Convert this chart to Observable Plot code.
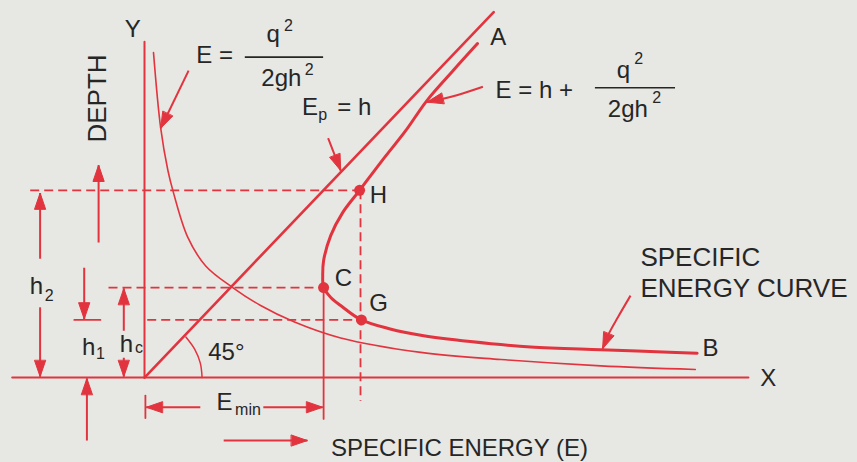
<!DOCTYPE html>
<html>
<head>
<meta charset="utf-8">
<script src="https://cdn.jsdelivr.net/npm/d3@7"></script>
<script src="https://cdn.jsdelivr.net/npm/@observablehq/plot@0.6"></script>
<style>
  html, body { margin: 0; padding: 0; background: #e7e7e3; }
  #chart svg { display: block; }
</style>
</head>
<body>
<div id="chart"></div>
<script>
// ---- Data (E = specific energy, h = depth; units where h_c = 1) ----
const specificEnergyCurve = [
  [3.70, 3.71], [3.42, 3.40], [3.14, 3.08], [2.90, 2.74], [2.64, 2.41],
  [2.39, 2.08], [2.20, 1.83], [2.07, 1.58], [1.99, 1.30], [1.98, 1.13],
  [1.99, 1.00], [2.07, 0.89], [2.18, 0.80], [2.41, 0.64], [2.73, 0.54],
  [3.07, 0.47], [3.62, 0.40], [4.29, 0.34], [5.07, 0.31], [5.62, 0.29],
  [6.14, 0.27]
];
const kineticCurve = [
  [0.10, 3.61], [0.18, 2.77], [0.26, 2.30], [0.32, 2.06], [0.48, 1.56],
  [0.68, 1.24], [0.98, 1.00], [1.29, 0.80], [1.66, 0.62], [2.18, 0.44],
  [3.07, 0.28], [3.96, 0.20], [5.07, 0.13], [6.12, 0.09]
];
const potentialLine = [[0, 0], [3.88, 4.06]];
const axisLines = [
  {id: "x", pts: [[-1.47, 0], [6.71, 0]]},
  {id: "y", pts: [[0, 0], [0, 3.73]]}
];
const dashedGuides = [
  {id: "H", pts: [[-1.27, 2.08], [2.39, 2.08]]},
  {id: "C", pts: [[-0.40, 1.00], [1.99, 1.00]]},
  {id: "G", pts: [[0.03, 0.64], [2.41, 0.64]]},
  {id: "HG", pts: [[2.40, 2.08], [2.40, -0.26]]}
];
const solidGuides = [
  {id: "Cv", pts: [[1.99, 1.00], [1.99, -0.46]]},
  {id: "Ov", pts: [[0.01, -0.20], [0.01, -0.45]]},
  {id: "h1", pts: [[-0.78, 0.64], [-0.49, 0.64]]}
];
const keyPoints = [
  {name: "H", E: 2.39, h: 2.08},
  {name: "C", E: 1.99, h: 1.00},
  {name: "G", E: 2.41, h: 0.64}
];
// arrows: tail ... tip
const arrows = [
  {id: "h2up", pts: [[-1.16, 1.32], [-1.16, 2.05]]},
  {id: "h2dn", pts: [[-1.16, 0.78], [-1.16, 0.01]]},
  {id: "hcup", pts: [[-0.23, 0.52], [-0.23, 0.99]]},
  {id: "hcdn", pts: [[-0.23, 0.22], [-0.23, 0.01]]},
  {id: "h1dn", pts: [[-0.67, 1.22], [-0.67, 0.65]]},
  {id: "h1up", pts: [[-0.64, -0.70], [-0.64, -0.01]]},
  {id: "depth", pts: [[-0.51, 1.50], [-0.51, 2.36]]},
  {id: "eminL", pts: [[0.62, -0.33], [0.02, -0.33]]},
  {id: "eminR", pts: [[1.32, -0.33], [1.98, -0.33]]},
  {id: "energy", pts: [[0.88, -0.70], [1.81, -0.70]]},
  {id: "ann1", pts: [[0.49, 3.41], [0.18, 2.77]]},
  {id: "ann2", pts: [[2.04, 2.66], [2.18, 2.30]]},
  {id: "ann3", pts: [[3.76, 3.23], [3.48, 3.14], [3.14, 3.06]]},
  {id: "ann4", pts: [[5.40, 0.91], [5.26, 0.67], [5.16, 0.49], [5.09, 0.32]]}
];
const angleArc = [[0.64, 0], [0.62, 0.16], [0.56, 0.31], [0.46, 0.45]];
const fractionBars = [
  {E1: 1.12, E2: 1.99, h: 3.56},
  {E1: 5.01, E2: 5.90, h: 3.22}
];
const labels = [
  {t: "Y", E: -0.13, h: 3.87},
  {t: "A", E: 3.93, h: 3.78},
  {t: "E =", E: 0.78, h: 3.58},
  {t: "q", E: 1.43, h: 3.81},
  {t: "2gh", E: 1.52, h: 3.32},
  {t: "E", E: 1.84, h: 3.00},
  {t: "= h", E: 2.33, h: 3.00},
  {t: "E = h +", E: 4.33, h: 3.19},
  {t: "q", E: 5.32, h: 3.41},
  {t: "2gh", E: 5.37, h: 2.98},
  {t: "H", E: 2.60, h: 2.02},
  {t: "C", E: 2.21, h: 1.10},
  {t: "G", E: 2.60, h: 0.82},
  {t: "B", E: 6.29, h: 0.33},
  {t: "X", E: 6.93, h: -0.01},
  {t: "45°", E: 0.91, h: 0.28},
  {t: "h", E: -1.20, h: 1.01},
  {t: "h", E: -0.62, h: 0.34},
  {t: "h", E: -0.20, h: 0.37},
  {t: "E", E: 0.89, h: -0.27}
];
const scriptLabels = [
  {t: "2", E: 1.60, h: 3.91},
  {t: "2", E: 1.83, h: 3.42},
  {t: "p", E: 1.98, h: 2.92},
  {t: "2", E: 5.49, h: 3.54},
  {t: "2", E: 5.69, h: 3.11},
  {t: "2", E: -1.06, h: 0.91},
  {t: "1", E: -0.49, h: 0.26},
  {t: "c", E: -0.06, h: 0.33},
  {t: "min", E: 1.15, h: -0.36}
];
const curveLabel = [
  {t: "SPECIFIC", E: 5.51, h: 1.33},
  {t: "ENERGY CURVE", E: 5.51, h: 0.99}
];
const xTitle = [{t: "SPECIFIC ENERGY (E)", E: 3.50, h: -0.79}];
const yTitle = [{t: "DEPTH", E: -0.52, h: 3.10}];

// ---- helpers ----
const RED = "#e2343e";
const INK = "#262626";
const UNIT_PX = 90; // equal pixels per unit on both scales
const flat = (arr) => arr.flatMap(d => d.pts.map(([E, h]) => ({id: d.id, E, h})));
const pts = (arr) => arr.map(([E, h]) => ({E, h}));
// filled triangular arrowhead at the tip of each arrow, aligned with its last segment
const heads = arrows.flatMap(({id, pts: p}) => {
  const [x0, y0] = p[p.length - 2], [x1, y1] = p[p.length - 1];
  const len = Math.hypot(x1 - x0, y1 - y0);
  const ux = (x1 - x0) / len, uy = (y1 - y0) / len;
  const L = 16 / UNIT_PX, W = 5.5 / UNIT_PX;
  const bx = x1 - ux * L, by = y1 - uy * L;
  return [
    {id, E: bx - uy * W, h: by + ux * W},
    {id, E: x1, h: y1},
    {id, E: bx + uy * W, h: by - ux * W}
  ];
});

const chart = Plot.plot({
  width: 857,
  height: 462,
  margin: 0,
  x: {domain: [-1.6, 7.922], range: [0, 857], axis: null},
  y: {domain: [-0.944, 4.189], range: [462, 0], axis: null},
  style: {background: "#e7e7e3", fontFamily: "'Liberation Sans', Arial, sans-serif", color: INK},
  marks: [
    Plot.line(flat(dashedGuides), {x: "E", y: "h", z: "id", stroke: RED, strokeWidth: 1.8, strokeDasharray: "9,5", strokeLinecap: "butt"}),
    Plot.line(flat(solidGuides), {x: "E", y: "h", z: "id", stroke: RED, strokeWidth: 1.8}),
    Plot.line(flat(axisLines), {x: "E", y: "h", z: "id", stroke: RED, strokeWidth: 2}),
    Plot.line(pts(angleArc), {x: "E", y: "h", curve: "catmull-rom", stroke: RED, strokeWidth: 1.5}),
    Plot.line(pts(kineticCurve), {x: "E", y: "h", curve: "catmull-rom", stroke: RED, strokeWidth: 1.6}),
    Plot.line(pts(potentialLine), {x: "E", y: "h", stroke: RED, strokeWidth: 2.6}),
    Plot.line(pts(specificEnergyCurve), {x: "E", y: "h", curve: "catmull-rom", stroke: RED, strokeWidth: 3}),
    Plot.line(flat(arrows), {x: "E", y: "h", z: "id", curve: "catmull-rom", stroke: RED, strokeWidth: 2, strokeLinecap: "butt"}),
    Plot.line(heads, {x: "E", y: "h", z: "id", fill: RED, stroke: RED, strokeWidth: 1, curve: "linear-closed"}),
    Plot.ruleY(fractionBars, {y: "h", x1: "E1", x2: "E2", stroke: INK, strokeWidth: 1.6}),
    Plot.dot(keyPoints, {x: "E", y: "h", r: 5.5, fill: RED}),
    Plot.text(labels, {x: "E", y: "h", text: "t", fontSize: 24, fill: INK}),
    Plot.text(scriptLabels, {x: "E", y: "h", text: "t", fontSize: 16, fill: INK}),
    Plot.text(curveLabel, {x: "E", y: "h", text: "t", fontSize: 26, textAnchor: "start", fill: INK}),
    Plot.text(xTitle, {x: "E", y: "h", text: "t", fontSize: 24, fill: INK}),
    Plot.text(yTitle, {x: "E", y: "h", text: "t", fontSize: 26, rotate: -90, fill: INK})
  ]
});

document.getElementById("chart").append(chart);
</script>
</body>
</html>
